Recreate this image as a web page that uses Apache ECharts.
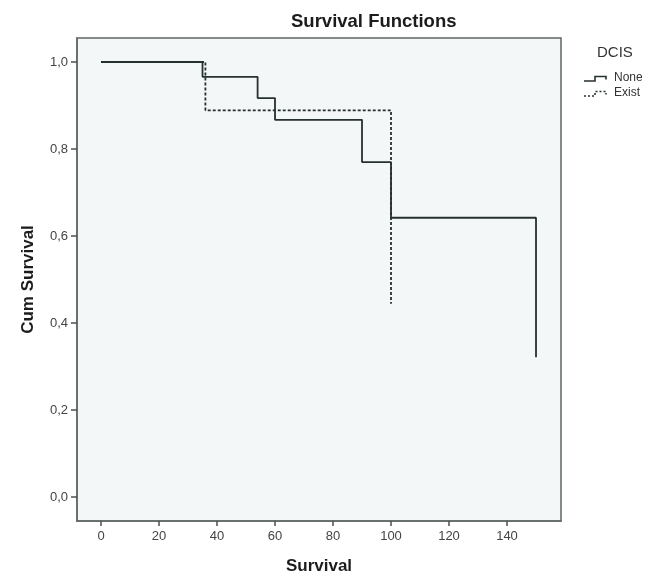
<!DOCTYPE html>
<html>
<head>
<meta charset="utf-8">
<script src="https://cdn.jsdelivr.net/npm/echarts@6/dist/echarts.min.js"></script>
<style>html,body{margin:0;padding:0;background:#fff;}#c{width:664px;height:585px;}</style>
</head>
<body>
<div id="c"></div>
<script>
// Data
const noneTimes = [0, 35, 54, 60, 90, 100, 150];
const noneSurv  = [1.0, 0.966, 0.917, 0.867, 0.770, 0.642, 0.321];
const existTimes = [0, 36, 100];
const existSurv  = [1.0, 0.889, 0.444];
const xTicks = [0, 20, 40, 60, 80, 100, 120, 140];
const yTicks = [0.0, 0.2, 0.4, 0.6, 0.8, 1.0];
const xRange = [-8.28, 158.62];
const yRange = [-0.0552, 1.0552];
const seriesNames = ['None', 'Exist'];
const legendTitle = 'DCIS';

const FONT = "'Liberation Sans', Arial, sans-serif";
const LINE = '#263030';
const FRAME = '#5f6767';

const chart = echarts.init(document.getElementById('c'), null, {renderer: 'canvas'});
const zip = (a, b) => a.map((v, i) => [v, b[i]]);

const option = {
  animation: false,
  backgroundColor: '#ffffff',
  title: {
    text: 'Survival Functions',
    left: 291, top: 12, padding: 0,
    textStyle: {fontFamily: FONT, fontSize: 18.5, fontWeight: 'bold', color: '#1c1c1c'}
  },
  grid: {left: 77, right: 103, top: 38, bottom: 64, containLabel: false,
    show: true, backgroundColor: '#f4f7f7', borderColor: FRAME, borderWidth: 1.5},
  xAxis: {
    type: 'value', min: xRange[0], max: xRange[1],
    name: 'Survival', nameLocation: 'middle', nameGap: 37,
    nameTextStyle: {fontFamily: FONT, fontSize: 17, fontWeight: 'bold', color: '#1c1c1c'},
    axisLine: {show: true, onZero: false, lineStyle: {color: FRAME, width: 1.5}},
    axisTick: {show: true, length: 5, customValues: xTicks, lineStyle: {color: '#4a5050', width: 1.5}},
    axisLabel: {fontFamily: FONT, fontSize: 13, color: '#444', margin: 9, customValues: xTicks},
    splitLine: {show: false}
  },
  yAxis: {
    type: 'value', min: yRange[0], max: yRange[1],
    name: 'Cum Survival', nameLocation: 'middle', nameGap: 40,
    nameTextStyle: {fontFamily: FONT, fontSize: 17, fontWeight: 'bold', color: '#1c1c1c'},
    axisLine: {show: true, onZero: false, lineStyle: {color: FRAME, width: 1.5}},
    axisTick: {show: true, length: 6, customValues: yTicks, lineStyle: {color: '#4a5050', width: 1.5}},
    axisLabel: {fontFamily: FONT, fontSize: 13, color: '#444', margin: 9, customValues: yTicks,
      formatter: v => v.toFixed(1).replace('.', ',')},
    splitLine: {show: false}
  },
  graphic: [
    {type: 'text', left: 597, top: 45,
      style: {text: legendTitle, font: "15px " + FONT, fill: '#333'}},
    {type: 'polyline', silent: true,
      shape: {points: [[584, 81], [595, 81], [595, 76.5], [606, 76.5], [606, 79.5]]},
      style: {stroke: LINE, lineWidth: 1.6, fill: null}},
    {type: 'text', left: 614, top: 72,
      style: {text: seriesNames[0], font: "12px " + FONT, fill: '#333'}},
    {type: 'polyline', silent: true,
      shape: {points: [[584, 96], [595, 96], [595, 91.5], [606, 91.5], [606, 94.5]]},
      style: {stroke: LINE, lineWidth: 1.6, fill: null, lineDash: [2, 2]}},
    {type: 'text', left: 614, top: 87,
      style: {text: seriesNames[1], font: "12px " + FONT, fill: '#333'}}
  ],
  series: [
    {name: seriesNames[0], type: 'line', step: 'end',
      data: zip(noneTimes, noneSurv), symbol: 'none', showSymbol: false,
      lineStyle: {color: LINE, width: 1.8}, z: 3},
    {name: seriesNames[1], type: 'line', step: 'end',
      data: zip(existTimes, existSurv), symbol: 'none', showSymbol: false,
      lineStyle: {color: LINE, width: 1.8, type: [3, 2]}, z: 4}
  ]
};
chart.setOption(option);
</script>
</body>
</html>
